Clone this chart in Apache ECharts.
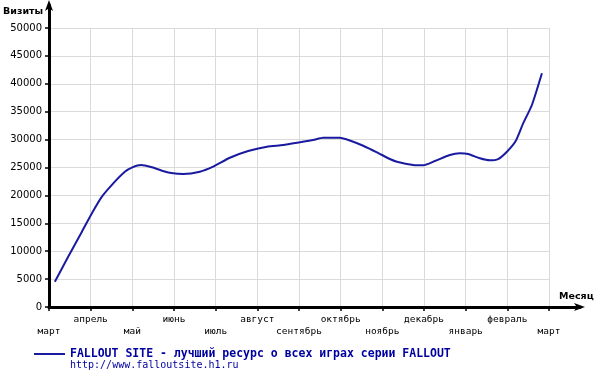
<!DOCTYPE html>
<html>
<head>
<meta charset="utf-8">
<script src="https://cdn.jsdelivr.net/npm/echarts@6/dist/echarts.min.js"></script>
<style>
html, body { margin: 0; padding: 0; background: #fff; }
#chart { width: 594px; height: 376px; }
</style>
</head>
<body>
<div id="chart"></div>
<script>
// подписи месяцев по оси X
var monthNames = ['март', 'апрель', 'май', 'июнь', 'июль', 'август', 'сентябрь',
    'октябрь', 'ноябрь', 'декабрь', 'январь', 'февраль', 'март'];

// позиция точки в месяцах от начала (март = 0)
var visitMonth = [0.14, 0.46, 0.79, 1.03, 1.27, 1.58, 1.82, 2.0, 2.21, 2.47, 2.71, 2.98,
    3.22, 3.62, 3.94, 4.34, 4.78, 5.23, 5.62, 6.02, 6.34, 6.58, 6.98, 7.22, 7.54, 7.87,
    8.18, 8.35, 8.74, 8.98, 9.26, 9.62, 9.86, 10.06, 10.34, 10.58, 10.78, 10.99, 11.2,
    11.38, 11.59, 11.83];

// визиты
var visitValue = [4530, 9010, 13500, 16800, 19770, 22460, 24250, 25030, 25450, 25030, 24430, 23960,
    23850, 24250, 25150, 26750, 27960, 28730, 29030, 29520, 29930, 30340, 30340, 29850, 28900, 27720,
    26520, 26040, 25450, 25390, 26160, 27240, 27540, 27420, 26650, 26290, 26520, 27830, 29750,
    32920, 36200, 41880];

var seriesName = 'FALLOUT SITE - лучший ресурс о всех играх серии FALLOUT';
var siteUrl = 'http://www.falloutsite.h1.ru';

var points = [];
for (var i = 0; i < visitMonth.length; i++) {
    points.push([visitMonth[i], visitValue[i]]);
}

var chart = echarts.init(document.getElementById('chart'));

var option = {
    backgroundColor: '#fff',
    animation: false,
    grid: [
        {left: 49, right: 45, top: 28, bottom: 69},
        // только для осей со стрелками
        {left: 49, right: 14, top: 5, bottom: 69}
    ],
    xAxis: [{
        gridIndex: 0,
        type: 'value',
        min: 0,
        max: 12,
        interval: 1,
        axisLine: {show: false},
        axisTick: {show: true, length: 4, lineStyle: {color: '#000', width: 1.5}},
        splitLine: {show: true, lineStyle: {color: '#dadada', width: 1}},
        axisLabel: {
            margin: 7,
            color: '#000',
            fontFamily: 'DejaVu Sans Mono',
            fontSize: 9.5,
            lineHeight: 12,
            verticalAlign: 'top',
            formatter: function (v) {
                var name = monthNames[Math.round(v)];
                if (name === undefined) return '';
                return Math.round(v) % 2 === 1 ? name + '\n ' : ' \n' + name;
            }
        }
    }, {
        gridIndex: 1,
        type: 'value',
        min: 0,
        max: 1,
        axisLine: {
            show: true,
            symbol: ['none', 'arrow'],
            symbolSize: [6, 11],
            symbolOffset: [0, 5],
            lineStyle: {color: '#000', width: 3}
        },
        axisTick: {show: false},
        axisLabel: {show: false},
        splitLine: {show: false}
    }],
    yAxis: [{
        gridIndex: 0,
        type: 'value',
        min: 0,
        max: 50000,
        interval: 5000,
        axisLine: {show: false},
        axisTick: {show: true, length: 4, lineStyle: {color: '#000', width: 1.5}},
        splitLine: {show: true, lineStyle: {color: '#dadada', width: 1}},
        axisLabel: {
            margin: 7,
            color: '#000',
            fontFamily: 'DejaVu Sans',
            fontSize: 10,
            formatter: function (v) { return String(v); }
        }
    }, {
        gridIndex: 1,
        type: 'value',
        min: 0,
        max: 1,
        axisLine: {
            show: true,
            symbol: ['none', 'arrow'],
            symbolSize: [6, 11],
            symbolOffset: [0, 5],
            lineStyle: {color: '#000', width: 3}
        },
        axisTick: {show: false},
        axisLabel: {show: false},
        splitLine: {show: false}
    }],
    legend: {
        left: 29,
        top: 343,
        data: [{name: seriesName, icon: 'rect'}],
        itemWidth: 31,
        itemHeight: 2,
        itemGap: 0,
        textStyle: {
            color: '#0000a0',
            fontFamily: 'DejaVu Sans Mono',
            fontWeight: 'bold',
            fontSize: 11.5
        }
    },
    graphic: [
        {type: 'text', left: 3, top: 7, style: {text: 'Визиты', fill: '#000', font: 'bold 9.5px "DejaVu Sans"'}},
        {type: 'text', left: 559, top: 292, style: {text: 'Месяц', fill: '#000', font: 'bold 9.5px "DejaVu Sans"'}},
        {type: 'text', left: 70, top: 360, style: {text: siteUrl, fill: '#0000a0', font: '10px "DejaVu Sans Mono"'}}
    ],
    series: [{
        name: seriesName,
        type: 'line',
        xAxisIndex: 0,
        yAxisIndex: 0,
        data: points,
        smooth: 0.2,
        showSymbol: false,
        color: '#1a1aa0',
        lineStyle: {color: '#1a1aa0', width: 2}
    }]
};

chart.setOption(option);
</script>
</body>
</html>
